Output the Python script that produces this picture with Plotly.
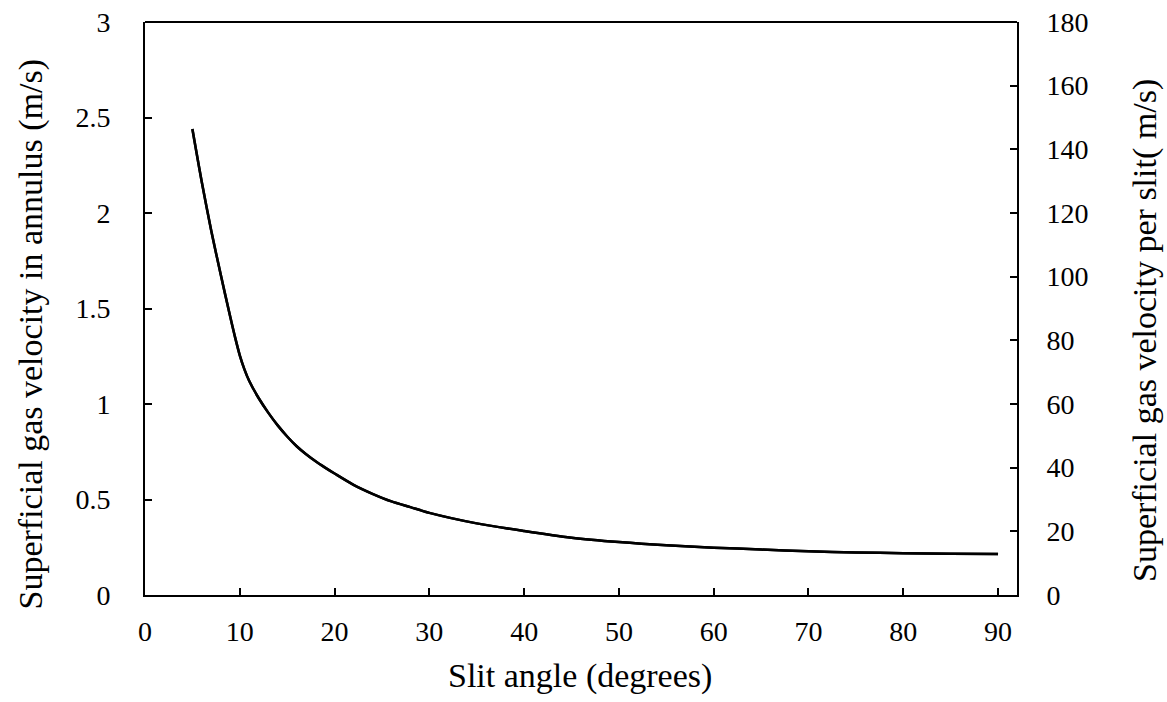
import plotly.graph_objects as go

angle = [5, 6, 7, 8, 9, 9.5, 10, 10.5, 11, 12, 13, 14, 15, 16, 17, 18, 19, 20, 22, 24, 26, 28, 30,
         35, 40, 45, 50, 55, 60, 65, 70, 75, 80, 85, 90]
v_annulus = [2.44, 2.16, 1.905, 1.675, 1.455, 1.35, 1.255, 1.18, 1.12, 1.03, 0.955, 0.888, 0.83,
             0.779, 0.737, 0.70, 0.667, 0.636, 0.577, 0.53, 0.49, 0.46, 0.43,
             0.375, 0.335, 0.30, 0.277, 0.260, 0.248, 0.238, 0.229, 0.223, 0.219, 0.216, 0.215]
slit_factor = 60  # right axis scale (m/s per slit) relative to annulus velocity
v_slit = [v * slit_factor for v in v_annulus]

x_ticks = [0, 10, 20, 30, 40, 50, 60, 70, 80, 90]
y_ticks = [0, 0.5, 1, 1.5, 2, 2.5, 3]
y_ticktext = ["0", "0.5", "1", "1.5", "2", "2.5", "3"]
y2_ticks = [0, 20, 40, 60, 80, 100, 120, 140, 160, 180]

x_title = "Slit angle (degrees)"
y_title = "Superficial gas velocity in annulus (m/s)"
y2_title = "Superficial gas velocity per slit( m/s)"

FONT = "Liberation Serif"
TICK = dict(family=FONT, size=28, color="black")
TITLE = dict(family=FONT, size=34, color="black")

fig = go.Figure()
fig.add_trace(go.Scatter(x=angle, y=v_annulus, mode="lines",
                         line=dict(color="black", width=2.5, shape="spline", smoothing=0.8),
                         showlegend=False, yaxis="y"))
fig.add_trace(go.Scatter(x=angle, y=v_slit, mode="lines",
                         line=dict(color="black", width=2.5, shape="spline", smoothing=0.8),
                         showlegend=False, yaxis="y2"))

axis_common = dict(showline=True, linecolor="black", linewidth=2, ticks="inside", ticklen=7,
                   tickwidth=2, tickcolor="black", showgrid=False, zeroline=False,
                   tickfont=TICK, automargin=False)

fig.update_layout(
    width=1167, height=702,
    margin=dict(l=145, r=150, t=22, b=107, autoexpand=False),
    plot_bgcolor="white", paper_bgcolor="white",
    xaxis=dict(range=[0, 92], tickvals=x_ticks, ticklabelstandoff=10, **axis_common),
    yaxis=dict(range=[0, 3], tickvals=y_ticks, ticktext=y_ticktext, ticklabelstandoff=27,
               **axis_common),
    yaxis2=dict(range=[0, 180], tickvals=y2_ticks, overlaying="y", side="right",
                ticklabelstandoff=22, **axis_common),
    shapes=[dict(type="line", xref="paper", yref="paper", x0=0, x1=1, y0=1, y1=1,
                 line=dict(color="black", width=2))],
    annotations=[
        dict(text=x_title, xref="paper", yref="paper", x=0.499, y=-0.141,
             xanchor="center", yanchor="middle", showarrow=False, font=TITLE),
        dict(text=y_title, xref="paper", yref="paper", x=-0.131, y=0.456, textangle=-90,
             xanchor="center", yanchor="middle", showarrow=False, font=TITLE),
        dict(text=y2_title, xref="paper", yref="paper", x=1.147, y=0.461, textangle=-90,
             xanchor="center", yanchor="middle", showarrow=False, font=TITLE),
    ],
)

fig.write_html("out.html")
